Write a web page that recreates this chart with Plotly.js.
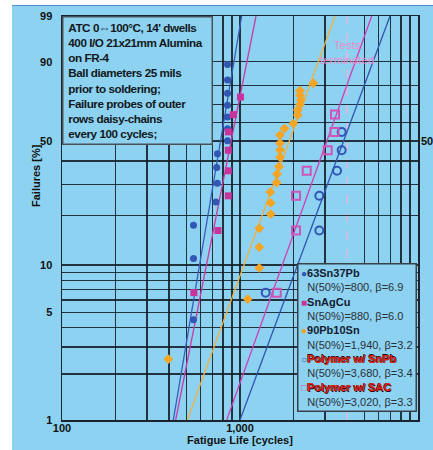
<!DOCTYPE html>
<html><head><meta charset="utf-8">
<script src="https://cdn.plot.ly/plotly-3.0.1.min.js"></script>
<style>
html,body{margin:0;padding:0;background:#fff;}
#wrap{position:relative;width:433px;height:450px;overflow:hidden;}
#bg{position:absolute;left:12px;top:5px;width:421px;height:445px;background:#8dd2f0;border-top:1px solid #4a8fd0;}
#chart{position:absolute;left:0;top:0;width:433px;height:450px;}
g.annotation[data-index="0"] text{letter-spacing:-0.45px;}
</style></head><body>
<div id="wrap"><div id="bg"></div><div id="chart"></div></div>
<script>
// ---- data ----
const seriesNames = ["63Sn37Pb", "SnAgCu", "90Pb10Sn", "Polymer w/ SnPb", "Polymer w/ SAC"];
const n50Labels = ["800", "880", "1,940", "3,680", "3,020"];
const betaValues = [6.9, 6.0, 3.2, 3.4, 3.3];

const snpbCycles = [548, 548, 548, 733, 746, 740, 747, 851, 851, 851, 851, 851, 851, 851];
const snpbFail   = [4.5, 11.0, 17.5, 24.0, 30.5, 37.0, 43.5, 50.0, 56.5, 63.0, 69.5, 76.0, 82.5, 89.0];

const sacCycles = [551, 752, 860, 860, 860, 860, 917, 1006];
const sacFail   = [6.7, 16.3, 26.0, 35.6, 45.2, 54.8, 64.4, 74.0];

const pbCycles = [396, 1105, 1284, 1284, 1284, 1488, 1488, 1480, 1607, 1615, 1656, 1678, 1678, 1678, 1678, 1778, 1993, 2110, 2110, 2173, 2200, 2173, 2173, 2582];
const pbFail   = [2.5, 6.1, 9.6, 12.9, 16.8, 20.4, 23.7, 27.3, 30.8, 34.2, 37.4, 41.7, 45.3, 48.8, 53.1, 56.6, 59.4, 64.1, 66.9, 70.1, 72.4, 75.0, 77.3, 81.0];

const polySnpbCycles = [1394, 2790, 2790, 3508, 3726, 3726];
const polySnpbFail   = [6.7, 16.3, 26.0, 35.6, 45.2, 54.8];

const polySacCycles = [1608, 2064, 2064, 2370, 3109, 3396, 3418];
const polySacFail   = [6.7, 16.3, 26.0, 35.6, 45.2, 54.8, 64.4];

// fitted Weibull lines: cycles at 1% and at 99% failures (same order as seriesNames)
const fitFail = [1, 99];
const fitLowCycles  = [422, 435, 506, 1000, 842];
const fitHighCycles = [1022, 1230, 3418, 6962, 5495];

const testsTerminated = 4000;

const xTickVals = [100, 1000, 10000];
const xTickText = ["100", "1,000", "10,000"];
const xMinor = [200, 300, 400, 500, 600, 700, 800, 900, 2000, 3000, 5000, 6000, 7000, 8000, 9000];
const yTickVals = [1, 5, 10, 50, 90, 99];
const yMinor = [2, 3, 4, 6, 7, 8, 9, 20, 30, 40, 60, 70, 80];

const infoLines = ["ATC 0\u21d4100\u00b0C, 14' dwells", "400 I/O 21x21mm Alumina", "on FR-4",
  "Ball diameters 25 mils", "prior to soldering;", "Failure probes of outer",
  "rows daisy-chains", "every 100 cycles;"];

// ---- styling ----
const wb = p => Math.log(-Math.log(1 - p / 100));   // Weibull probability scale
const colors = ["#3256b4", "#c8349c", "#f5a424", "#3256b4", "#d054b8"];
const lineColors = ["#3a5cbc", "#c83ca4", "#f2b040", "#3054b0", "#d040b8"];
const symbols = ["circle", "square", "diamond", "circle-open", "square-open"];
const sizes = [7, 7, 7.5, 8, 8];
const legendSyms = ["\u25cf", "\u25a0", "\u25cf", "\u25cb", "\u25a1"];
const gridCol = "rgba(18,28,38,0.88)";
const font = "Liberation Sans, Arial, sans-serif";

const pts = [[snpbCycles, snpbFail], [sacCycles, sacFail], [pbCycles, pbFail],
             [polySnpbCycles, polySnpbFail], [polySacCycles, polySacFail]];

const traces = [];
seriesNames.forEach((name, i) => {
  traces.push({
    x: [fitLowCycles[i], fitHighCycles[i]], y: fitFail.map(wb),
    mode: "lines", line: {color: lineColors[i], width: 1.3},
    showlegend: false, hoverinfo: "skip"
  });
});
seriesNames.forEach((name, i) => {
  traces.push({
    x: pts[i][0], y: pts[i][1].map(wb), name: name,
    mode: "markers", showlegend: false,
    marker: {symbol: symbols[i], size: sizes[i], color: colors[i],
             line: {color: colors[i], width: i >= 3 ? 2 : 0}}
  });
});

// legend box text built from the arrays
const redName = "color:#e8261c;text-shadow:0.6px 0.6px 0 #2a0000,-0.4px -0.4px 0 #2a0000";
const nameStyles = ["color:#141c30", "color:#141c30", "color:#141c30", redName, redName];
const legendText = seriesNames.map((n, i) =>
  `<span style="color:${colors[i]};font-size:10px">${legendSyms[i]}</span><b><span style="${nameStyles[i]}">${n}</span></b><br>` +
  `\u00a0\u00a0<span style="color:#2a3038">N(50%)=${n50Labels[i]}, \u03b2=${betaValues[i].toFixed(1)}</span>`
).join("<br>");

const layout = {
  width: 433, height: 450,
  margin: {l: 62, r: 15, t: 16, b: 30},
  paper_bgcolor: "rgba(0,0,0,0)", plot_bgcolor: "rgba(0,0,0,0)",
  font: {family: font, color: "#111"},
  showlegend: false,
  xaxis: {
    type: "log", range: [2, 4],
    tickmode: "array", tickvals: xTickVals, ticktext: xTickText,
    tickfont: {size: 11, weight: "bold", color: "#111"},
    ticklabelstandoff: -3,
    showgrid: true, gridcolor: gridCol, gridwidth: 1.5,
    minor: {tickmode: "array", tickvals: xMinor, showgrid: true, gridcolor: gridCol, gridwidth: 1.5, ticks: ""},
    showline: true, mirror: true, linecolor: "#1a2430", linewidth: 1.5,
    zeroline: false, ticks: "",
    title: {text: "Fatigue Life [cycles]", font: {size: 11, weight: "bold", color: "#111"}, standoff: 2},
    automargin: false
  },
  yaxis: {
    range: [wb(1), wb(99)],
    tickmode: "array", tickvals: yTickVals.map(wb), ticktext: yTickVals.map(String),
    tickfont: {size: 11, weight: "bold", color: "#111"},
    ticklabelstandoff: 6,
    showgrid: true, gridcolor: gridCol, gridwidth: 1.5,
    minor: {tickmode: "array", tickvals: yMinor.map(wb), showgrid: true, gridcolor: gridCol, gridwidth: 1.5, ticks: ""},
    showline: true, mirror: true, linecolor: "#1a2430", linewidth: 1.5,
    zeroline: false, ticks: "", automargin: false
  },
  shapes: [{
    type: "line", xref: "x", yref: "paper", x0: testsTerminated, x1: testsTerminated, y0: 0, y1: 1,
    line: {color: "#f4b2e0", width: 1.2, dash: "dash"}, layer: "below"
  }],
  annotations: [
    {
      xref: "paper", yref: "paper", x: 0, y: 1, xanchor: "left", yanchor: "top",
      text: infoLines.map(s => "\u00a0" + s).join("<br>"), align: "left", showarrow: false,
      width: 144, height: 122, borderpad: 2, borderwidth: 1.5,
      bordercolor: "#4a5058", bgcolor: "#8dd2f0",
      font: {size: 11.7, weight: "bold", color: "#121820", family: font}
    },
    {
      xref: "paper", yref: "paper", x: 0.6593, y: 0.388, xanchor: "left", yanchor: "top",
      text: legendText, align: "left", showarrow: false,
      borderpad: 2.5, borderwidth: 1.5,
      bordercolor: "#3a4048", bgcolor: "#8dd2f0",
      font: {size: 11, color: "#141c30", family: font}
    },
    {
      xref: "x", yref: "paper", x: Math.log10(testsTerminated), y: 0.9488,
      text: "Tests<br>terminated", showarrow: false, align: "center",
      font: {size: 11.5, color: "#ec8ccc", family: font}
    },
    {
      xref: "paper", yref: "y", x: 1, y: wb(50), xanchor: "left", xshift: 1,
      text: "<b>50</b>", showarrow: false, font: {size: 11, color: "#111", family: font}
    },
    {
      xref: "paper", yref: "paper", x: -0.073, y: 0.604, xanchor: "center", yanchor: "middle", textangle: -90,
      text: "<b>Failures [%]</b>", showarrow: false, font: {size: 11, color: "#111", family: font}
    }
  ]
};

Plotly.newPlot("chart", traces, layout, {displayModeBar: false, staticPlot: true});
</script>
</body></html>
